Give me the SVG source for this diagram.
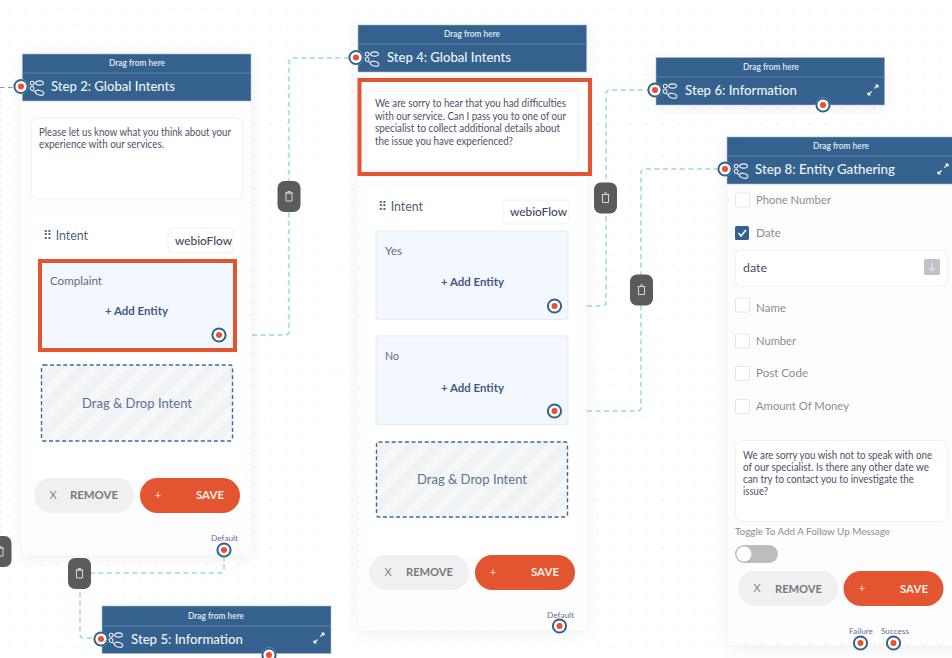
<svg xmlns="http://www.w3.org/2000/svg" width="952" height="658" viewBox="0 0 952 658">
<style>
text{font-family:"Lato","Noto Sans","Liberation Sans",sans-serif}
.hd{fill:#34618d;stroke:#a9bdd2;stroke-width:.6}
.dv{stroke:#5f83a7;stroke-width:1}
.card{fill:#fdfdfd;filter:url(#sh)}
.panel{fill:#fff}
.ta{fill:#fff;stroke:#eef0f3;stroke-width:1}
.drag{fill:#e4ecf4;font-size:8.5px;font-weight:600;text-anchor:middle}
.title{fill:#eef3f8;font-size:14px;font-weight:500}
.msg{fill:#4d5268;font-size:10.500px}
.int{fill:#4f5f78;font-size:13px}
.wb{fill:#3d4a5e;font-size:12px;font-weight:500}
.lbl{fill:#666b78;font-size:11px}
.add{fill:#3f5b80;font-size:11px;font-weight:700}
.ent{fill:#f3f8fe;stroke:#e6ebf2;stroke-width:1.2}
.hl{fill:none;stroke:#e35531;stroke-width:4}
.dz{fill:url(#st);stroke:#3f6a96;stroke-width:1.4;stroke-dasharray:4 2.6}
.dzt{fill:#5f7091;font-size:13.500px}
.rm{fill:#f0f0f0}
.rmt{fill:#77797d;font-size:11px;font-weight:700}
.rmx{fill:#85878c;font-size:11px;text-anchor:middle}
.sv{fill:#e35531}
.svt{fill:#fdeee8;font-size:11px;font-weight:700}
.svp{fill:#f6c9a6;font-size:11px;font-weight:700;text-anchor:middle}
.sm{fill:#656c96;font-size:8px}
.cb{fill:#fff;stroke:#e6e7ea;stroke-width:1.2}
.cl{fill:#8a8d94;font-size:11px}
.con{fill:none;stroke:#9adcc9;stroke-width:1.500;stroke-dasharray:5 3.500}
.tb{fill:#5b5b5b}
.ic{fill:none;stroke:#eef3f8;stroke-width:1}
.tr{fill:none;stroke:#d8d8d8;stroke-width:1}
</style>
<defs>
<pattern id="dots" width="16.33" height="16.33" patternUnits="userSpaceOnUse" x="1" y="1"><rect x="8" y="8" width="1" height="1" fill="#d6d9dd"/></pattern>
<pattern id="st" width="18" height="18" patternUnits="userSpaceOnUse" patternTransform="rotate(45)"><rect width="18" height="18" fill="#f0f3f6"/><rect width="8" height="18" fill="#f6f7f8"/></pattern>
<filter id="sh" x="-15%" y="-15%" width="130%" height="130%"><feDropShadow dx="0" dy="3" stdDeviation="8" flood-color="#000" flood-opacity=".06"/></filter>
<symbol id="flow" viewBox="0 0 16 16" overflow="visible"><circle cx="3" cy="3" r="1.800" class="ic"/><ellipse cx="10" cy="2.800" rx="3.600" ry="2" class="ic"/><circle cx="3" cy="8" r="1.800" class="ic"/><ellipse cx="10" cy="12" rx="4" ry="2.200" transform="rotate(15 10 12)" class="ic"/><path d="M5 3H6.500M3.500 10 6 11" class="ic"/></symbol>
<g id="port"><circle r="7.500" fill="#fff"/><circle r="6.600" fill="none" stroke="#34618d" stroke-width="2"/><circle r="3" fill="#e9502e"/></g>
<g id="exp"><path d="M-5 5-1.500 1.500M1.500-1.500 5-5M-5 5V2.500M-5 5H-2.500M5-5V-2.500M5-5H2.500" fill="none" stroke="#fff" stroke-width="1.200"/></g>
<g id="trash"><rect x="-11.500" y="-15.500" width="23" height="31" rx="7" class="tb"/><path d="M-3-3.500H3V4.500H-3ZM-3.800-3.500H3.800M-1.500-5H1.500" class="tr"/></g>
</defs>
<rect width="952" height="658" fill="#fff"/>
<rect width="952" height="658" fill="url(#dots)"/>
<g id="connectors">
<path class="con" d="M252 335H285Q289 335 289 331V62Q289 58 293 58H352"/>
<path class="con" d="M587 306H602Q606 306 606 302V94Q606 90 610 90H650"/>
<path class="con" d="M587 411H637Q641 411 641 407V173Q641 169 645 169H720"/>
<path class="con" d="M224 556V569Q224 573 220 573H80V634Q80 638 84 638H96"/>
<path d="M0 87.500H15" fill="none" stroke="#8aa0a8" stroke-width="1.200" stroke-dasharray="4.500 3.500"/>
<path d="M0 90V536" fill="none" stroke="#dcdfe2" stroke-width="1" stroke-dasharray="4 3"/>
</g>
<g id="step2">
<rect class="card" x="22" y="54" width="229" height="501"/>
<rect class="hd" x="22.300" y="54" width="228.700" height="47"/><path class="dv" d="M22 73H251"/>
<text class="drag" x="137" y="66" textLength="56" lengthAdjust="spacingAndGlyphs">Drag from here</text>
<use href="#flow" x="29" y="80" width="17" height="17"/>
<text class="title" x="51" y="91" textLength="124" lengthAdjust="spacingAndGlyphs">Step 2: Global Intents</text>
<rect class="ta" x="31" y="118" width="212" height="81" rx="7"/>
<text class="msg" x="39" y="136" textLength="192" lengthAdjust="spacingAndGlyphs">Please let us know what you think about your</text>
<text class="msg" x="39" y="148" textLength="125" lengthAdjust="spacingAndGlyphs">experience with our services.</text>
<rect class="panel" x="31" y="216" width="212" height="262"/>
<text class="int" x="43" y="240" textLength="45" lengthAdjust="spacingAndGlyphs">⠿ Intent</text>
<rect class="ta" x="168" y="228" width="65" height="25" rx="4"/>
<text class="wb" x="175" y="245" textLength="57" lengthAdjust="spacingAndGlyphs">webioFlow</text>
<rect class="ent" x="40" y="261" width="195" height="89"/><rect class="hl" x="40" y="261" width="195" height="89"/>
<text class="lbl" x="50" y="285" textLength="52" lengthAdjust="spacingAndGlyphs">Complaint</text>
<text class="add" x="105" y="315" textLength="63" lengthAdjust="spacingAndGlyphs">+ Add Entity</text>
<use href="#port" x="219" y="335"/>
<rect class="dz" x="41.500" y="365" width="191" height="76" rx="2"/>
<text class="dzt" x="82" y="408" textLength="110" lengthAdjust="spacingAndGlyphs">Drag &amp; Drop Intent</text>
<rect class="rm" x="34" y="478" width="100" height="35" rx="17.500"/><text class="rmx" x="53" y="499">X</text>
<text class="rmt" x="70" y="499" textLength="48" lengthAdjust="spacingAndGlyphs">REMOVE</text>
<rect class="sv" x="140" y="478" width="100" height="35" rx="17.500"/><text class="svp" x="158" y="499">+</text>
<text class="svt" x="196" y="499" textLength="28" lengthAdjust="spacingAndGlyphs">SAVE</text>
<text class="sm" x="211" y="541" textLength="27" lengthAdjust="spacingAndGlyphs">Default</text>
<use href="#port" x="224" y="550"/>
<use href="#port" x="21" y="86.500"/>
</g>
<g id="step4">
<rect class="card" x="358" y="25" width="229" height="605"/>
<rect class="hd" x="358" y="25" width="228.700" height="47"/><path class="dv" d="M358 44H587"/>
<text class="drag" x="472" y="37" textLength="56" lengthAdjust="spacingAndGlyphs">Drag from here</text>
<use href="#flow" x="364" y="51" width="17" height="17"/>
<text class="title" x="387" y="62" textLength="124" lengthAdjust="spacingAndGlyphs">Step 4: Global Intents</text>
<rect class="panel" x="359" y="78" width="228" height="98"/>
<rect class="ta" x="366" y="88" width="212" height="82" rx="7"/>
<rect class="hl" x="359.500" y="80" width="230.500" height="94"/>
<text class="msg" x="375" y="107" textLength="191" lengthAdjust="spacingAndGlyphs">We are sorry to hear that you had difficulties</text>
<text class="msg" x="375" y="120" textLength="191" lengthAdjust="spacingAndGlyphs">with our service. Can I pass you to one of our</text>
<text class="msg" x="375" y="132" textLength="185" lengthAdjust="spacingAndGlyphs">specialist to collect additional details about</text>
<text class="msg" x="375" y="145" textLength="138" lengthAdjust="spacingAndGlyphs">the issue you have experienced?</text>
<rect class="panel" x="366" y="188" width="212" height="367"/>
<text class="int" x="378" y="211" textLength="45" lengthAdjust="spacingAndGlyphs">⠿ Intent</text>
<rect class="ta" x="503" y="200" width="66" height="24" rx="4"/>
<text class="wb" x="510" y="216" textLength="57" lengthAdjust="spacingAndGlyphs">webioFlow</text>
<rect class="ent" x="376" y="231" width="192" height="88.500" rx="3"/>
<text class="lbl" x="385" y="255" textLength="17" lengthAdjust="spacingAndGlyphs">Yes</text>
<text class="add" x="441" y="286" textLength="63" lengthAdjust="spacingAndGlyphs">+ Add Entity</text>
<use href="#port" x="554.500" y="306"/>
<rect class="ent" x="376" y="336" width="192" height="88.500" rx="3"/>
<text class="lbl" x="385" y="360" textLength="14" lengthAdjust="spacingAndGlyphs">No</text>
<text class="add" x="441" y="392" textLength="63" lengthAdjust="spacingAndGlyphs">+ Add Entity</text>
<use href="#port" x="554.500" y="411"/>
<rect class="dz" x="376.500" y="442" width="191" height="75" rx="2"/>
<text class="dzt" x="417" y="484" textLength="110" lengthAdjust="spacingAndGlyphs">Drag &amp; Drop Intent</text>
<rect class="rm" x="369" y="555" width="100" height="35" rx="17.500"/><text class="rmx" x="388" y="576">X</text>
<text class="rmt" x="406" y="576" textLength="47" lengthAdjust="spacingAndGlyphs">REMOVE</text>
<rect class="sv" x="475" y="555" width="100" height="35" rx="17.500"/><text class="svp" x="493" y="576">+</text>
<text class="svt" x="531" y="576" textLength="28" lengthAdjust="spacingAndGlyphs">SAVE</text>
<text class="sm" x="547" y="618" textLength="27" lengthAdjust="spacingAndGlyphs">Default</text>
<use href="#port" x="559.500" y="626"/>
<use href="#port" x="356" y="57.500"/>
</g>
<g id="step6">
<rect class="card" x="656" y="58" width="229" height="48"/>
<rect class="hd" x="656" y="57.500" width="228.700" height="47.500"/><path class="dv" d="M656 77H885"/>
<text class="drag" x="771" y="70" textLength="56" lengthAdjust="spacingAndGlyphs">Drag from here</text>
<use href="#flow" x="662" y="83" width="17" height="17"/>
<text class="title" x="685" y="95" textLength="112" lengthAdjust="spacingAndGlyphs">Step 6: Information</text>
<use href="#exp" x="873" y="90"/>
<use href="#port" x="655" y="90"/>
<use href="#port" x="823" y="105"/>
</g>
<g id="step8">
<rect class="card" x="727" y="137" width="240" height="508"/>
<rect class="hd" x="727" y="137" width="226" height="47"/><path class="dv" d="M727 156H952"/>
<text class="drag" x="841" y="149" textLength="56" lengthAdjust="spacingAndGlyphs">Drag from here</text>
<use href="#flow" x="733" y="163" width="17" height="17"/>
<text class="title" x="755" y="174" textLength="140" lengthAdjust="spacingAndGlyphs">Step 8: Entity Gathering</text>
<use href="#exp" x="943" y="169"/>
<use href="#port" x="725" y="169"/>
<rect class="cb" x="735.500" y="193" width="14" height="14" rx="1.500"/>
<text class="cl" x="756" y="204" textLength="75" lengthAdjust="spacingAndGlyphs">Phone Number</text>
<rect x="735" y="226" width="14" height="14" rx="1.500" fill="#34618d"/><path d="M738.500 233 741 236 746 230" fill="none" stroke="#fff" stroke-width="1.500"/>
<text class="cl" x="756" y="237" textLength="25" lengthAdjust="spacingAndGlyphs">Date</text>
<rect class="ta" x="735.500" y="250" width="212" height="36" rx="5"/>
<text x="743" y="272" fill="#444c5c" font-size="11.500" textLength="24" lengthAdjust="spacingAndGlyphs">date</text>
<rect x="924" y="259" width="16" height="16" rx="1.500" fill="#bfc3c8"/><path d="M932 262.500V271M929 268 932 271 935 268" fill="none" stroke="#eceef0" stroke-width="1"/>
<rect class="cb" x="735.500" y="298" width="14" height="14" rx="1.500"/>
<text class="cl" x="756" y="312" textLength="30" lengthAdjust="spacingAndGlyphs">Name</text>
<rect class="cb" x="735.500" y="334" width="14" height="14" rx="1.500"/>
<text class="cl" x="756" y="345" textLength="40" lengthAdjust="spacingAndGlyphs">Number</text>
<rect class="cb" x="735.500" y="366.500" width="14" height="14" rx="1.500"/>
<text class="cl" x="756" y="377" textLength="52" lengthAdjust="spacingAndGlyphs">Post Code</text>
<rect class="cb" x="735.500" y="399.500" width="14" height="14" rx="1.500"/>
<text class="cl" x="756" y="410" textLength="93" lengthAdjust="spacingAndGlyphs">Amount Of Money</text>
<rect class="ta" x="735.500" y="440.500" width="212" height="81" rx="7"/>
<text class="msg" x="743" y="459" textLength="189" lengthAdjust="spacingAndGlyphs">We are sorry you wish not to speak with one</text>
<text class="msg" x="743" y="471" textLength="186" lengthAdjust="spacingAndGlyphs">of our specialist. Is there any other date we</text>
<text class="msg" x="743" y="483" textLength="171" lengthAdjust="spacingAndGlyphs">can try to contact you to investigate the</text>
<text class="msg" x="743" y="495" textLength="25" lengthAdjust="spacingAndGlyphs">issue?</text>
<text x="735" y="535" fill="#8a8d94" font-size="9.500" textLength="155" lengthAdjust="spacingAndGlyphs">Toggle To Add A Follow Up Message</text>
<rect x="735" y="545" width="43" height="18" rx="9" fill="#bdbdbd"/><circle cx="744" cy="554" r="7.500" fill="#fff"/>
<rect class="rm" x="738" y="571" width="100" height="35" rx="17.500"/><text class="rmx" x="757" y="592">X</text>
<text class="rmt" x="775" y="593" textLength="47" lengthAdjust="spacingAndGlyphs">REMOVE</text>
<rect class="sv" x="843.500" y="571" width="100" height="35" rx="17.500"/><text class="svp" x="862" y="592">+</text>
<text class="svt" x="900" y="593" textLength="28" lengthAdjust="spacingAndGlyphs">SAVE</text>
<text class="sm" x="849" y="634" textLength="24" lengthAdjust="spacingAndGlyphs">Failure</text>
<text class="sm" x="881" y="634" textLength="28" lengthAdjust="spacingAndGlyphs">Success</text>
<use href="#port" x="860.500" y="643"/>
<use href="#port" x="893.500" y="643"/>
</g>
<g id="step5">
<rect class="hd" x="102" y="606" width="229" height="47.500"/><path class="dv" d="M102 626H331"/>
<text class="drag" x="216" y="619" textLength="56" lengthAdjust="spacingAndGlyphs">Drag from here</text>
<use href="#flow" x="108" y="632" width="17" height="17"/>
<text class="title" x="131" y="644" textLength="112" lengthAdjust="spacingAndGlyphs">Step 5: Information</text>
<use href="#exp" x="319" y="638"/>
<use href="#port" x="101" y="639"/>
<use href="#port" x="269" y="655"/>
</g>
<g id="delete-buttons">
<use href="#trash" x="289" y="196.500"/>
<use href="#trash" x="605.500" y="198"/>
<use href="#trash" x="641.500" y="290"/>
<use href="#trash" x="79.500" y="573.500"/>
<use href="#trash" x="0" y="551.500"/>
</g>
</svg>
